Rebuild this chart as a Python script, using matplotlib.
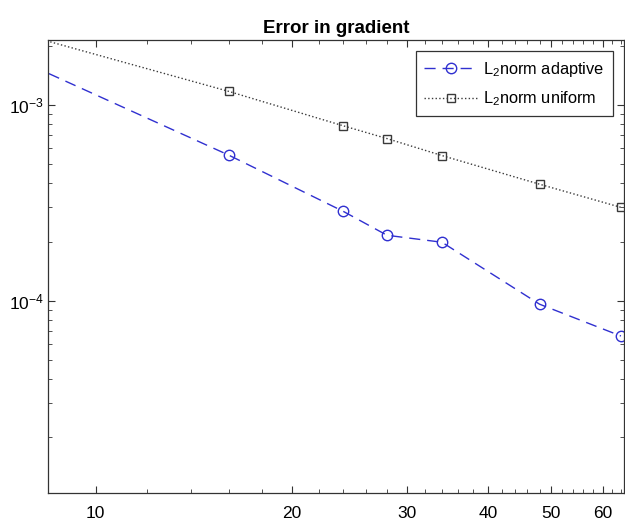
import matplotlib
matplotlib.use('Agg')
from matplotlib import pyplot as plt
from matplotlib.ticker import FixedLocator, FixedFormatter, LogLocator, NullFormatter

plt.rcParams['font.family'] = ['Liberation Sans', 'DejaVu Sans']
plt.rcParams['mathtext.fontset'] = 'custom'
plt.rcParams['mathtext.rm'] = 'Liberation Sans'

# data (mesh size vs error)
n_elems = [8, 16, 24, 28, 34, 48, 64]
err_adaptive = [1.58e-3, 5.55e-4, 2.86e-4, 2.16e-4, 1.99e-4, 9.6e-5, 6.6e-5]
err_uniform = [2.23e-3, 1.175e-3, 7.83e-4, 6.74e-4, 5.52e-4, 3.94e-4, 3.0e-4]

xtick_vals = [10, 20, 30, 40, 50, 60]
xtick_labels = ['10', '20', '30', '40', '50', '60']

fig = plt.figure(figsize=(6.25, 5.21), dpi=100)
ax = fig.add_axes([0.0768, 0.0537, 0.9216, 0.8695])

ax.loglog(n_elems, err_adaptive, color='#3030d0', linestyle='--', dashes=(8, 5),
          lw=1.0, marker='o', ms=7.5, mfc='none', mew=1.0,
          label=r'L$_2$norm adaptive')
ax.loglog(n_elems, err_uniform, color='#3a3a3a', linestyle=':', lw=1.0,
          marker='s', ms=6, mfc='none', mew=1.0,
          label=r'L$_2$norm uniform')

ax.set_xlim(8.45, 64.7)
ax.set_ylim(1.04e-5, 2.15e-3)

ax.xaxis.set_major_locator(FixedLocator(xtick_vals))
ax.xaxis.set_major_formatter(FixedFormatter(xtick_labels))
ax.xaxis.set_minor_locator(FixedLocator([v for v in range(10, 66, 2) if v % 10 != 0]))
ax.xaxis.set_minor_formatter(NullFormatter())
ax.yaxis.set_minor_locator(LogLocator(base=10, subs=range(2, 10)))
ax.yaxis.set_minor_formatter(NullFormatter())

ax.tick_params(which='both', direction='in', top=True, right=True,
               colors='#333333', labelcolor='black', labelsize=12.5)
ax.tick_params(axis='x', which='major', pad=9)
ax.tick_params(axis='y', which='major', pad=3)
ax.tick_params(which='major', length=5, width=0.8)
ax.tick_params(which='minor', length=3, width=0.6)
for s in ax.spines.values():
    s.set_color('#333333')
    s.set_linewidth(0.9)

ax.set_title('Error in gradient', fontsize=13.5, fontweight='bold', pad=5)

leg = ax.legend(loc='upper right', fontsize=11.8, fancybox=False, framealpha=1,
                edgecolor='#333333', handlelength=3.3, borderaxespad=0.7,
                labelspacing=0.65, handletextpad=0.3, borderpad=0.5)
leg.get_frame().set_linewidth(0.9)

fig.savefig('out.png', dpi=100)
